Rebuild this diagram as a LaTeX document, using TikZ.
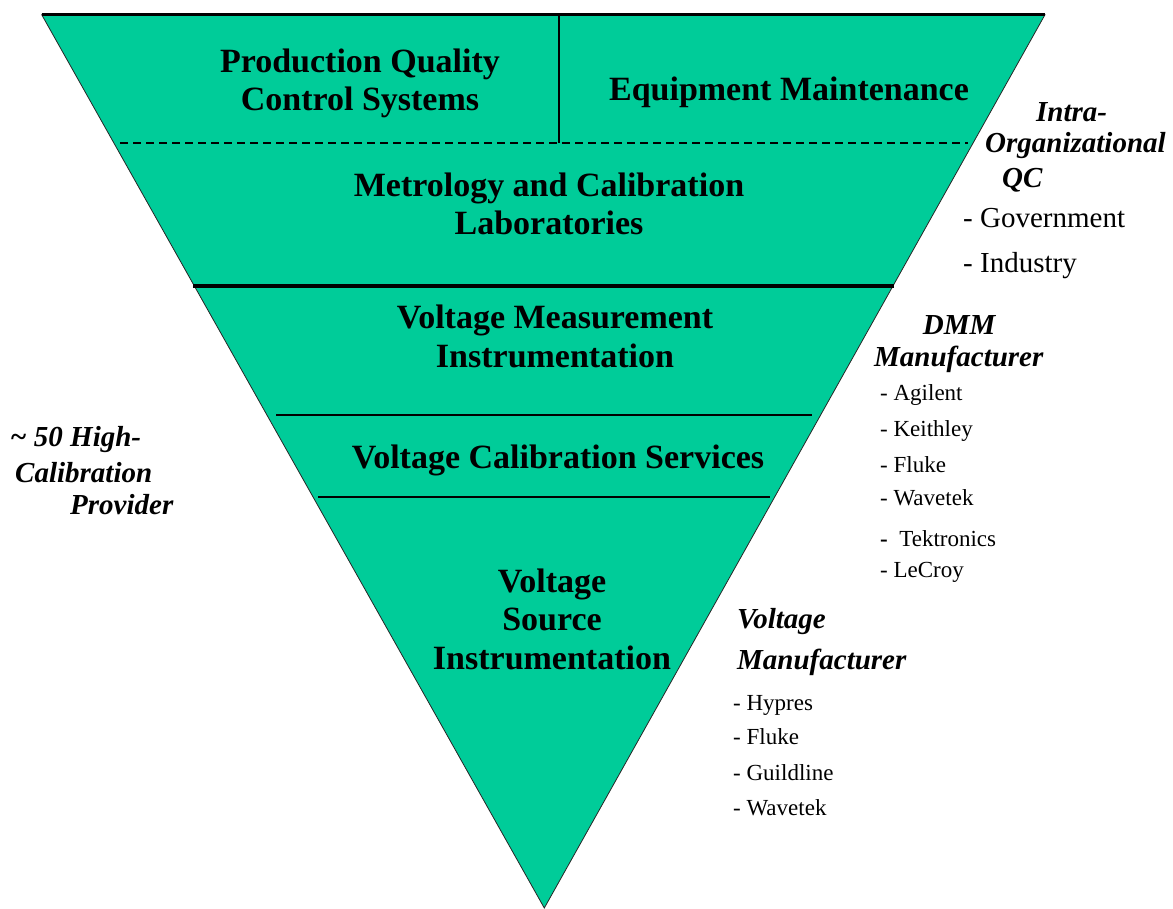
\documentclass[tikz,border=0pt]{standalone}
\usepackage{fontspec}
\setmainfont{Liberation Serif}
\usetikzlibrary{positioning}
\definecolor{bandgreen}{HTML}{00CC99}

\begin{document}
\begin{tikzpicture}[x=1pt, y=-1pt,
	band text/.style={font=\fontsize{34}{38.5}\selectfont\bfseries, align=center, inner sep=0pt, anchor=base},
	side head/.style={font=\fontsize{29}{32}\selectfont\bfseries\itshape, inner sep=0pt, anchor=base west},
	side item/.style={font=\fontsize{23}{26}\selectfont, inner sep=0pt, anchor=base west},
	org item/.style={font=\fontsize{29}{32}\selectfont, inner sep=0pt, anchor=base west}]
	\useasboundingbox (0,0) rectangle (1173,909);
	\coordinate (TL) at (41.7,14.7);
	\coordinate (TR) at (1045,14.7);
	\coordinate (Tip) at (544.3,908);
	\filldraw[fill=bandgreen, draw=black!85, line width=0.8pt] (TL) -- (TR) -- (Tip) -- cycle;
	\draw[line width=3pt] (TL) -- (TR);
	\draw[line width=2pt] (559,14.7) -- (559,142.7);
	\draw[line width=2pt, dash pattern=on 8pt off 5pt] (120,142.7) -- (968,142.7);
	\draw[line width=4pt] (193,286) -- (894,286);
	\draw[line width=2.5pt] (276,415) -- (812,415);
	\draw[line width=2.5pt] (318,497) -- (770,497);

	\node[band text] (P) at (360,111) {Production Quality\\Control Systems};
	\node[band text] (E) at (789,101) {Equipment Maintenance};
	\node[band text] (M) at (549,235) {Metrology and Calibration\\Laboratories};
	\node[band text] (VM) at (555,367) {Voltage Measurement\\Instrumentation};
	\node[band text] (VC) at (558,468) {Voltage Calibration Services};
	\node[band text] (VS) at (552,669.3) {Voltage\\Source\\Instrumentation};

	\node[side head] (Q1) at (1036,121.7) {Intra-};
	\node[side head] (Q2) at (985,153) {Organizational};
	\node[side head] (Q3) at (1002,188) {QC};
	\node[org item] (Q4) at (963,228) {- Government};
	\node[org item] (Q5) at (963,273) {- Industry};

	\node[side head] (D1) at (922.7,335) {DMM};
	\node[side head] (D2) at (874,366.7) {Manufacturer};
	\node[side item] (D3) at (880,400) {- Agilent};
	\node[side item] (D4) at (880,436) {- Keithley};
	\node[side item] (D5) at (880,472) {- Fluke};
	\node[side item] (D6) at (880,505) {- Wavetek};
	\node[side item] (D7) at (880,546) {\textbf{-}~ Tektronics};
	\node[side item] (D8) at (880,577) {- LeCroy};

	\node[side head] (S1) at (737,628) {Voltage};
	\node[side head] (S2) at (737,669) {Manufacturer};
	\node[side item] (S3) at (733,710) {- Hypres};
	\node[side item] (S4) at (733,744) {- Fluke};
	\node[side item] (S5) at (733,780) {- Guildline};
	\node[side item] (S6) at (733,815) {- Wavetek};

	\node[side head] (H1) at (10,446) {\textasciitilde\ 50 High-};
	\node[side head] (H2) at (15,482) {Calibration};
	\node[side head] (H3) at (70,514) {Provider};
\end{tikzpicture}
\end{document}
